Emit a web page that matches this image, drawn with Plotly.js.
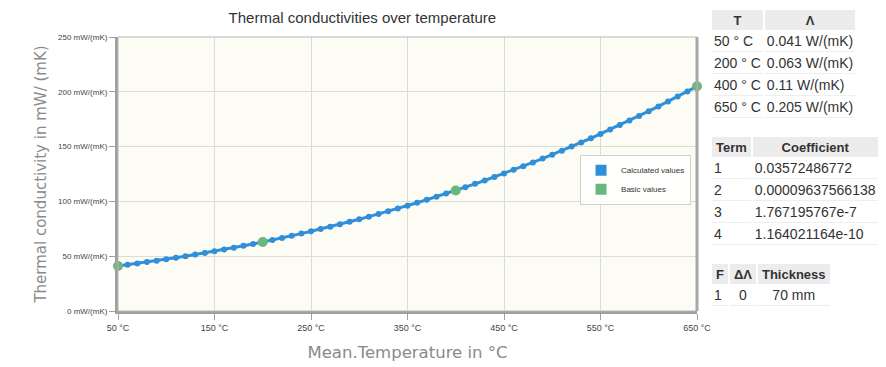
<!DOCTYPE html>
<html><head><meta charset="utf-8">
<script src="https://cdn.plot.ly/plotly-3.0.1.min.js"></script>
<style>
body{margin:0;padding:0;background:#fff;font-family:"Liberation Sans",Arial,sans-serif;}
#chart{position:absolute;left:0;top:0;width:886px;height:367px;}
table{position:absolute;border-collapse:separate;border-spacing:2px 0;font-size:14px;color:#333;}
th{background:#ececec;font-weight:bold;padding:1px 4px;height:18px;font-size:13px;}
td{padding:0 2px;height:21px;border-bottom:1px solid #eee;white-space:nowrap;}
</style></head>
<body>
<div id="chart"></div>
<table id="t1" style="left:710px;top:10px;"></table>
<table id="t2" style="left:710px;top:137px;"></table>
<table id="t3" style="left:710px;top:264px;"></table>
<script>
// Calculated values (every 10 °C)
const calcT = [50,60,70,80,90,100,110,120,130,140,150,160,170,180,190,200,210,220,230,240,250,260,270,280,290,300,310,320,330,340,350,360,370,380,390,400,410,420,430,440,450,460,470,480,490,500,510,520,530,540,550,560,570,580,590,600,610,620,630,640,650];
const calcL = [41.0,42.2,43.4,44.6,45.9,47.2,48.6,50.0,51.5,53.0,54.6,56.1,57.8,59.5,61.2,63.0,64.8,66.7,68.7,70.6,72.7,74.8,76.9,79.1,81.4,83.7,86.1,88.5,91.0,93.5,96.1,98.8,101.5,104.3,107.1,110.0,113.0,116.0,119.1,122.3,125.5,128.8,132.1,135.6,139.1,142.6,146.3,150.0,153.8,157.6,161.6,165.6,169.6,173.8,178.0,182.3,186.7,191.2,195.7,200.3,205.0];
// Basic values
const baseT = [50,200,400,650];
const baseL = [41,63,110,205];
const xTickVals = [50,150,250,350,450,550,650];
const xTickText = ['50 °C','150 °C','250 °C','350 °C','450 °C','550 °C','650 °C'];
const yTickVals = [0,50,100,150,200,250];
const yTickText = ['0 mW/(mK)','50 mW/(mK)','100 mW/(mK)','150 mW/(mK)','200 mW/(mK)','250 mW/(mK)'];
// Tables
const tab1Head = ['T','Λ'];
const tab1Rows = [['50 ° C','0.041 W/(mK)'],['200 ° C','0.063 W/(mK)'],['400 ° C','0.11 W/(mK)'],['650 ° C','0.205 W/(mK)']];
const tab2Head = ['Term','Coefficient'];
const tab2Rows = [['1','0.03572486772'],['2','0.00009637566138'],['3','1.767195767e-7'],['4','1.164021164e-10']];
const tab3Head = ['F','ΔΛ','Thickness'];
const tab3Rows = [['1','0','70 mm']];

function fill(id, head, rows, aligns){
  const t = document.getElementById(id);
  let h = '<tr>' + head.map(x=>'<th>'+x+'</th>').join('') + '</tr>';
  rows.forEach(r=>{ h += '<tr>' + r.map((x,i)=>'<td style="text-align:'+(aligns?aligns[i]:'left')+'">'+x+'</td>').join('') + '</tr>'; });
  t.innerHTML = h;
}
fill('t1', tab1Head, tab1Rows);
fill('t2', tab2Head, tab2Rows);
fill('t3', tab3Head, tab3Rows, ['left','center','center']);

const blue = '#2f8fd8', green = '#68b77c';
const traces = [
  {x: calcT, y: calcL, mode:'lines+markers', line:{color:blue,width:3}, marker:{color:blue,size:6}, showlegend:false, cliponaxis:false},
  {x: baseT, y: baseL, mode:'markers', marker:{color:green,size:10}, showlegend:false, cliponaxis:false},
  {x:[null], y:[null], mode:'markers', name:'Calculated values', marker:{symbol:'square', color:blue, size:11}},
  {x:[null], y:[null], mode:'markers', name:'Basic values', marker:{symbol:'square', color:green, size:11}}
];
const layout = {
  width:886, height:367,
  margin:{l:118, r:189, t:37, b:56},
  paper_bgcolor:'#ffffff', plot_bgcolor:'#fdfcf4',
  font:{family:'Liberation Sans, Arial, sans-serif', color:'#333'},
  title:{text:'Thermal conductivities over temperature', x:0.409, xanchor:'center', y:0.951, yanchor:'middle', font:{size:15,color:'#333'}},
  xaxis:{range:[50,650], tickvals:xTickVals, ticktext:xTickText, showgrid:true, gridcolor:'#dcdcd6', gridwidth:1,
         showline:true, linecolor:'#a0a0a0', linewidth:3, mirror:false, ticks:'outside', ticklen:6, tickcolor:'#a0a0a0', tickwidth:1,
         tickfont:{size:9,color:'#444'}, zeroline:false,
         title:{text:'Mean.Temperature in °C', standoff:15, font:{family:'DejaVu Sans, sans-serif', size:16.5, color:'#8a8a8a'}}},
  yaxis:{range:[0,250], tickvals:yTickVals, ticktext:yTickText, showgrid:true, gridcolor:'#dcdcd6', gridwidth:1,
         showline:true, linecolor:'#a0a0a0', linewidth:3, ticks:'outside', ticklen:6, tickcolor:'#a0a0a0', tickwidth:1,
         tickfont:{size:8,color:'#444'}, zeroline:false,
         title:{text:'Thermal conductivity in mW/ (mK)', standoff:8, font:{family:'DejaVu Sans, sans-serif', size:15, color:'#8a8a8a'}}},
  legend:{x:0.798, y:0.57, xanchor:'left', yanchor:'top', bgcolor:'rgba(255,255,255,0.85)', bordercolor:'#d0d0d0', borderwidth:1,
          font:{size:8,color:'#333'}, itemwidth:30, tracegroupgap:0, tracegroupgap:0},
  shapes:[
    {type:'rect', xref:'paper', yref:'paper', x0:0, x1:1, y0:0, y1:1, line:{color:'#b5b5b5', width:1}},
    {type:'line', xref:'paper', yref:'paper', x0:1, x1:1, y0:0, y1:1, line:{color:'#a8a8a8', width:3}}
  ]
};
Plotly.newPlot('chart', traces, layout, {displayModeBar:false, staticPlot:true});
</script>
</body></html>
